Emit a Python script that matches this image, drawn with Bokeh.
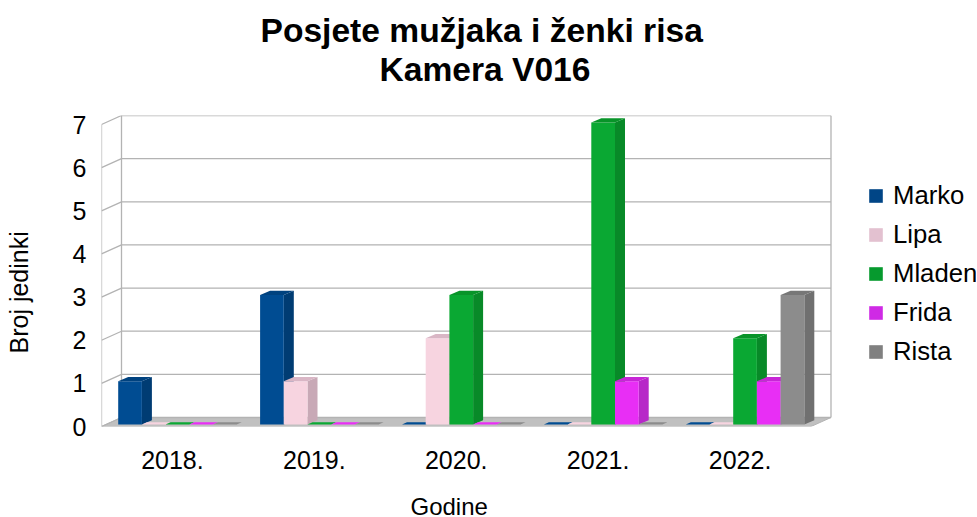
from bokeh.plotting import figure
from bokeh.models import Range1d, Legend, LegendItem, Title, FixedTicker
from bokeh.embed import file_html
from bokeh.resources import INLINE

years = ["2018.", "2019.", "2020.", "2021.", "2022."]
series = ["Marko", "Lipa", "Mladen", "Frida", "Rista"]
marko = [1, 3, 0, 0, 0]
lipa = [0, 1, 2, 0, 0]
mladen = [0, 0, 3, 7, 2]
frida = [0, 0, 0, 1, 1]
rista = [0, 0, 0, 0, 3]
values = [marko, lipa, mladen, frida, rista]
yticks = [0, 1, 2, 3, 4, 5, 6, 7]

front = ["#004c92", "#f7d4e0", "#0aa833", "#e82ef5", "#8c8c8c"]
top = ["#00427f", "#d9b6c5", "#089429", "#c726d6", "#777777"]
side = ["#003c73", "#c8a9b6", "#088a28", "#b728c8", "#707070"]
legend_col = ["#004586", "#e3c1d0", "#069a2e", "#cf2ae5", "#808080"]

FONT = "Liberation Sans"
PX_X = 141.9
PX_Y = 43.14
wx, wy = 20 / PX_X, 9 / PX_Y           # depth of the floor
dx, dy = 10 / PX_X, 4.3 / PX_Y         # depth of a bar
bar_w = 23.7 / PX_X
bar_x0 = 16.7 / PX_X
bar_y0 = 2 / PX_Y
n = len(years)
ymax = yticks[-1]

p = figure(width=977, height=546, output_backend="svg", toolbar_location=None,
           x_range=Range1d(0, 875 / PX_X), y_range=Range1d(0, 311 / PX_Y),
           frame_width=875, frame_height=311,
           min_border_left=94, min_border_right=0, min_border_top=115, min_border_bottom=96,
           margin=(0, -8, -8, 0))
p.outline_line_color = None
p.grid.visible = False
p.background_fill_color = None

p.yaxis.ticker = FixedTicker(ticks=yticks)
p.yaxis.axis_line_color = None
p.yaxis.major_tick_line_color = None
p.yaxis.minor_tick_line_color = None
p.yaxis.major_label_text_font = FONT
p.yaxis.major_label_text_font_size = "25px"
p.yaxis.major_label_text_color = "#000000"
p.yaxis.major_label_standoff = 9

p.xaxis.ticker = FixedTicker(ticks=[i + 0.5 for i in range(n)])
p.xaxis.major_label_overrides = {i + 0.5: y for i, y in enumerate(years)}
p.xaxis.axis_line_color = None
p.xaxis.major_tick_line_color = None
p.xaxis.minor_tick_line_color = None
p.xaxis.major_label_text_font = FONT
p.xaxis.major_label_text_font_size = "25px"
p.xaxis.major_label_text_color = "#000000"
p.xaxis.major_label_standoff = 18

p.title = None
# blank titles only hold the gap between the frame and the real titles
p.add_layout(Title(text=" ", text_font=FONT, text_font_size="23.5px", standoff=0), "above")
p.add_layout(Title(text="Kamera V016", align="left", offset=278,
                   text_font=FONT, text_font_size="33.6px", text_font_style="bold",
                   text_color="#000000", standoff=0), "above")
p.add_layout(Title(text="Posjete mužjaka i ženki risa", align="left", offset=159,
                   text_font=FONT, text_font_size="33.6px", text_font_style="bold",
                   text_color="#000000", standoff=0), "above")
p.add_layout(Title(text="Godine", align="left", offset=309,
                   text_font=FONT, text_font_size="24px", text_font_style="normal",
                   text_color="#000000", standoff=38), "below")
p.add_layout(Title(text=" ", text_font=FONT, text_font_size="29.5px", standoff=0), "left")
p.add_layout(Title(text="Broj jedinki", align="left", offset=73,
                   text_font=FONT, text_font_size="25px", text_font_style="normal",
                   text_color="#000000", standoff=4), "left")

# floor
p.patch([0, wx, n + wx, n], [0, wy, wy, 0], fill_color="#c0c0c0", line_color="#b3b3b3", line_width=1)

# walls and grid
xs, ys = [], []
for t in yticks:
    xs.append([0, wx, n + wx])
    ys.append([t, t + wy, t + wy])
xs += [[0, 0], [wx, wx], [n + wx, n + wx]]
ys += [[0, ymax], [wy, ymax + wy], [wy, ymax + wy]]
p.multi_line(xs, ys, line_color="#b3b3b3", line_width=1.3)

# bars
for s, vals in enumerate(values):
    for g, v in enumerate(vals):
        x0 = g + bar_x0 + s * bar_w
        x1 = x0 + bar_w
        y0 = bar_y0
        y1 = v + bar_y0
        k = 1 if v else 0.5
        ddx, ddy = dx * k, dy * k
        if v:
            p.patch([x1, x1 + ddx, x1 + ddx, x1], [y0, y0 + ddy, y1 + ddy, y1],
                    fill_color=side[s], line_color=None)
            p.quad(left=x0, right=x1, bottom=y0, top=y1, fill_color=front[s], line_color=None)
        p.patch([x0, x0 + ddx, x1 + ddx, x1], [y1, y1 + ddy, y1 + ddy, y1],
                fill_color=top[s] if v else front[s], line_color=None)

# legend (the swatch renderers have no visible area of their own)
items = []
for s, name in enumerate(series):
    r = p.quad(left=[0], right=[0], bottom=[0], top=[0], fill_color=legend_col[s], line_color=None)
    items.append(LegendItem(label=name, renderers=[r]))
legend = Legend(items=items, location=(766, 60), orientation="vertical",
                glyph_width=17, glyph_height=17, label_standoff=9, label_height=28, label_width=80,
                spacing=10, padding=0, margin=0, border_line_color=None, background_fill_alpha=0,
                label_text_font=FONT, label_text_font_size="25.7px", label_text_color="#000000")
p.add_layout(legend, "center")

open("out.html", "w").write(file_html(p, INLINE))
